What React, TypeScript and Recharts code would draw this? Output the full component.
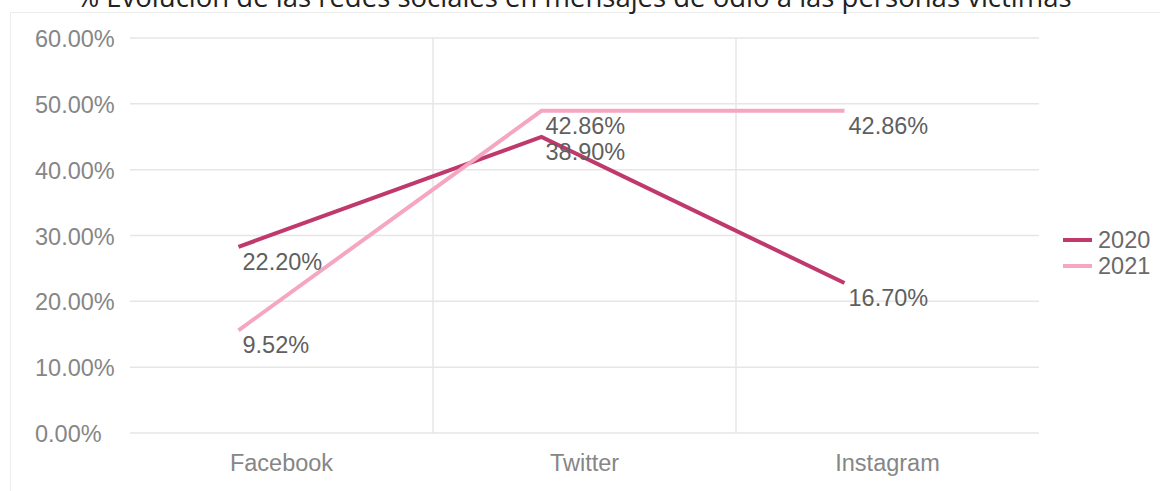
import React from 'react';
import { LineChart, Line, XAxis, YAxis, CartesianGrid, LabelList } from 'recharts';

const categories = ['Facebook', 'Twitter', 'Instagram'];
const values2020 = [22.2, 38.9, 16.7];
const values2021 = [9.52, 42.86, 42.86];
const yTicks = [0, 10, 20, 30, 40, 50, 60];
const title = '% Evolución de las redes sociales en mensajes de odio a las personas víctimas';

const series = [
  { key: 'y2020', name: '2020', values: values2020, color: '#c0396d' },
  { key: 'y2021', name: '2021', values: values2021, color: '#f5a6c1' },
];

const data = categories.map((name, i) => {
  const row: Record<string, string | number> = { name };
  series.forEach((s) => { row[s.key] = s.values[i]; });
  return row;
});

const font = '"Liberation Sans", Arial, sans-serif';
const fs = 23.5;
const pct = (v: number) => v.toFixed(2) + '%';

const YTick = (props: any) => {
  const { y, payload } = props;
  return (
    <text x={35} y={y + 9} fill="#868686" fontSize={fs} fontFamily={font}>
      {pct(payload.value)}
    </text>
  );
};

const XTick = (props: any) => {
  const { x, y, payload } = props;
  return (
    <text x={x} y={y + 30} textAnchor="middle" fill="#868686" fontSize={fs} fontFamily={font}>
      {payload.value}
    </text>
  );
};

const PointLabel = (props: any) => {
  const { x, y, value } = props;
  return (
    <text x={x + 4} y={y + 23} fill="#5f5f5f" fontSize={fs} fontFamily={font}>
      {pct(value)}
    </text>
  );
};

export default function App() {
  return (
    <div style={{ position: 'fixed', left: 0, top: 0, width: 1160, height: 491, background: '#fff', overflow: 'hidden' }}>
      <div style={{ position: 'absolute', left: 10, top: 12, width: 1200, height: 500, borderLeft: '1px solid #ececec', borderTop: '1px solid #ececec' }} />
      <svg width={1160} height={20} style={{ position: 'absolute', left: 0, top: 0 }}>
        <text x={574} y={7} textAnchor="middle" fontSize={27.5} fontFamily='"Open Sans", sans-serif' fill="#222">
          {title}
        </text>
      </svg>
      <div style={{ position: 'absolute', left: 0, top: 0 }}>
        <LineChart width={1160} height={491} data={data} margin={{ top: 38, right: 121, bottom: 0, left: 0 }}>
          <CartesianGrid
            stroke="#e6e6e6"
            strokeWidth={1.5}
            verticalCoordinatesGenerator={({ offset }: any) =>
              categories.slice(1).map((_, i) => offset.left + (offset.width * (i + 1)) / categories.length)
            }
          />
          <XAxis dataKey="name" scale="band" axisLine={false} tickLine={false} height={58} tick={<XTick />} interval={0} />
          <YAxis
            type="number"
            domain={[0, 60]}
            allowDataOverflow
            ticks={yTicks}
            axisLine={false}
            tickLine={false}
            width={130}
            tick={<YTick />}
            interval={0}
          />
          <XAxis xAxisId="s" dataKey="name" scale="band" hide padding={{ left: -43, right: 43 }} />
          <YAxis yAxisId="s" type="number" domain={[0, 60]} hide padding={{ top: -40, bottom: 40 }} />
          {series.map((s) => (
            <Line
              key={s.key}
              xAxisId="s"
              yAxisId="s"
              dataKey={s.key}
              name={s.name}
              type="linear"
              stroke={s.color}
              strokeWidth={4}
              dot={false}
              activeDot={false}
              isAnimationActive={false}
            >
              <LabelList dataKey={s.key} content={<PointLabel />} />
            </Line>
          ))}
        </LineChart>
      </div>
      <div style={{ position: 'absolute', left: 1063, top: 227, fontFamily: font, fontSize: fs, color: '#6a6a6a' }}>
        {series.map((s) => (
          <div key={s.key} style={{ display: 'flex', alignItems: 'center', height: 26 }}>
            <div style={{ width: 29, height: 4, background: s.color, marginRight: 6 }} />
            <span>{s.name}</span>
          </div>
        ))}
      </div>
    </div>
  );
}
